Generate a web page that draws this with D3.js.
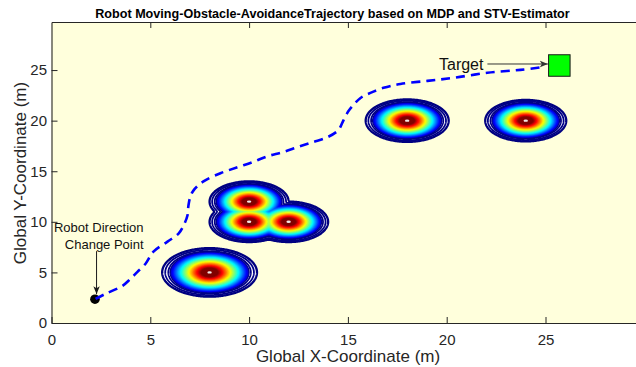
<!DOCTYPE html>
<html>
<head>
<meta charset="utf-8">
<script src="https://cdn.jsdelivr.net/npm/d3@7"></script>
<style>
  html, body { margin: 0; padding: 0; background: #fff; }
  svg { display: block; font-family: "Liberation Sans", Arial, sans-serif; }
</style>
</head>
<body>
<svg id="chart" width="636" height="367"></svg>
<script>
// Robot trajectory (m)
const pathX = [2.23, 2.73, 3.59, 4.00, 4.35, 4.76, 5.16, 5.87, 6.43, 6.68, 6.88, 6.93, 7.03, 7.19, 7.69,
               8.55, 9.41, 10.17, 10.93, 11.69, 12.45, 13.21, 13.97, 14.52, 14.78, 15.03, 15.28, 15.64,
               16.14, 16.80, 17.66, 19.03, 20.34, 22.06, 23.73, 24.99];
const pathY = [2.38, 2.88, 3.67, 4.37, 5.06, 5.86, 7.05, 8.04, 8.84, 9.63, 10.63, 11.62, 12.51, 13.11, 14.00,
               14.80, 15.39, 15.89, 16.48, 16.88, 17.38, 17.87, 18.37, 19.07, 20.06, 20.95, 21.55, 22.24,
               22.74, 23.24, 23.63, 23.93, 24.23, 24.73, 25.02, 25.32];

// Moving obstacles: centres and influence radius (m)
const obstacleX = [8, 10, 10, 12, 18, 24];
const obstacleY = [5, 12, 10, 10, 20, 20];
const obstacleR = [2.4, 2.0, 2.0, 2.0, 2.1, 2.05];

// Start / target
const startPoint = [2.2, 2.35];
const targetPoint = [25.7, 25.45];

// Axis ticks
const xTicks = [0, 5, 10, 15, 20, 25];
const yTicks = [0, 5, 10, 15, 20, 25];

const svg = d3.select("#chart");

const x = d3.scaleLinear().domain([0, 30]).range([51.5, 51.5 + 30 * 19.76]);
const y = d3.scaleLinear().domain([0, 29.75]).range([323, 22]);

const axisColor = "#262626";

// plot area background
svg.append("rect")
  .attr("x", x(0)).attr("y", y(29.75))
  .attr("width", x(30) - x(0)).attr("height", y(0) - y(29.75))
  .attr("fill", "#ffffdc");

svg.append("defs").append("clipPath").attr("id", "plotClip")
  .append("rect")
  .attr("x", x(0)).attr("y", y(29.75))
  .attr("width", x(30) - x(0)).attr("height", y(0) - y(29.75));

const plot = svg.append("g").attr("clip-path", "url(#plotClip)");

// ---- obstacle risk field (contours) ----
const step = 0.05, gx0 = 4, gy0 = 1;
const nx = Math.round((28 - gx0) / step) + 1;
const ny = Math.round((24 - gy0) / step) + 1;
const field = new Float64Array(nx * ny);
for (let j = 0; j < ny; j++) {
  const yy = gy0 + j * step;
  for (let i = 0; i < nx; i++) {
    const xx = gx0 + i * step;
    // smooth maximum of the individual obstacle fields
    let s = 0;
    for (let k = 0; k < obstacleX.length; k++) {
      const u = Math.hypot(xx - obstacleX[k], yy - obstacleY[k]) / obstacleR[k];
      s += Math.exp(40 * (1 - u));
    }
    field[i + j * nx] = Math.log(s) / 40;
  }
}

function jet(t) {
  const c = v => Math.max(0, Math.min(1, v));
  const r = c(1.5 - Math.abs(4 * t - 3));
  const g = c(1.5 - Math.abs(4 * t - 2));
  const b = c(1.5 - Math.abs(4 * t - 1));
  return d3.rgb(r * 255, g * 255, b * 255).toString();
}

const gridPath = d3.geoPath(d3.geoTransform({
  point(px, py) {
    this.stream.point(x(gx0 + (px - 0.5) * step), y(gy0 + (py - 0.5) * step));
  }
}));

const contourGen = d3.contours().size([nx, ny]);

// outer rings
const ringLevels = [0.0, 0.065, 0.13];
const fillStart = 0.17, fillEnd = 0.82, nFill = 42;
const fillLevels = d3.range(nFill).map(i => fillStart + (fillEnd - fillStart) * i / (nFill - 1));

const cg = plot.append("g");
// white base inside outermost ring
cg.append("path")
  .attr("d", gridPath(contourGen.contour(field, ringLevels[0])))
  .attr("fill", "#ffffff").attr("stroke", "#000080").attr("stroke-width", 2.3);
ringLevels.slice(1).forEach(lv => {
  cg.append("path")
    .attr("d", gridPath(contourGen.contour(field, lv)))
    .attr("fill", "none").attr("stroke", "#000086").attr("stroke-width", 1.8);
});
fillLevels.forEach((lv, i) => {
  const t = 0.06 + 0.94 * i / (nFill - 1);
  cg.append("path")
    .attr("d", gridPath(contourGen.contour(field, lv)))
    .attr("fill", jet(t))
    .attr("stroke", i === 0 ? "#00008a" : jet(t))
    .attr("stroke-width", i === 0 ? 1.5 : 0.4);
});
// centre markers
cg.selectAll("ellipse.ctr").data(obstacleX.map((d, i) => [d, obstacleY[i]]))
  .join("ellipse").attr("class", "ctr")
  .attr("cx", d => x(d[0])).attr("cy", d => y(d[1]))
  .attr("rx", 2.2).attr("ry", 1.2).attr("fill", "#ffffff").attr("opacity", 0.9);

// ---- start point ----
plot.append("circle")
  .attr("cx", x(startPoint[0])).attr("cy", y(startPoint[1]))
  .attr("r", 4.8).attr("fill", "#000");

// ---- trajectory ----
const line = d3.line()
  .x((d, i) => x(pathX[i])).y((d, i) => y(pathY[i]))
  .curve(d3.curveCatmullRom.alpha(0.5));
plot.append("path")
  .attr("d", line(pathX))
  .attr("fill", "none")
  .attr("stroke", "#0000ff")
  .attr("stroke-width", 2.6)
  .attr("stroke-dasharray", "9,6");

// ---- target ----
const tSize = 21.5;
plot.append("rect")
  .attr("x", x(targetPoint[0]) - tSize / 2).attr("y", y(targetPoint[1]) - tSize / 2)
  .attr("width", tSize).attr("height", tSize)
  .attr("fill", "#00ff00").attr("stroke", "#1a1a1a").attr("stroke-width", 1);

// ---- annotations ----
const defs = svg.select("defs");
function marker(id, color) {
  defs.append("marker").attr("id", id)
    .attr("viewBox", "0 0 10 10").attr("refX", 10).attr("refY", 5)
    .attr("markerWidth", 8).attr("markerHeight", 8).attr("markerUnits", "userSpaceOnUse")
    .attr("orient", "auto")
    .append("path").attr("d", "M0,1 L10,5 L0,9 L2.5,5 Z").attr("fill", color);
}
marker("arrowDark", "#1a1a1a");
marker("arrowGray", "#333333");

// target arrow
svg.append("line")
  .attr("x1", x(22.06)).attr("y1", y(25.6))
  .attr("x2", x(25.12)).attr("y2", y(25.6))
  .attr("stroke", "#333333").attr("stroke-width", 1)
  .attr("marker-end", "url(#arrowGray)");
svg.append("text")
  .attr("x", x(21.86)).attr("y", y(25.05))
  .attr("text-anchor", "end").attr("font-size", 16).attr("fill", "#111")
  .text("Target");

// direction-change arrow
svg.append("line")
  .attr("x1", x(2.28)).attr("y1", y(7.1))
  .attr("x2", x(2.28)).attr("y2", y(2.85))
  .attr("stroke", "#1a1a1a").attr("stroke-width", 1)
  .attr("marker-end", "url(#arrowDark)");
const rt = svg.append("text")
  .attr("text-anchor", "end").attr("font-size", 13).attr("fill", "#111");
rt.append("tspan").attr("x", x(4.66)).attr("y", y(9.0)).text("Robot Direction");
rt.append("tspan").attr("x", x(4.66)).attr("y", y(7.32)).text("Change Point");

// ---- axes ----
const fmt = d3.format("d");
const gx = svg.append("g").attr("transform", `translate(0,${y(0)})`)
  .call(d3.axisBottom(x).tickValues(xTicks).tickFormat(fmt).tickSizeInner(-6).tickSizeOuter(0).tickPadding(11.3));
const gy = svg.append("g").attr("transform", `translate(${x(0)},0)`)
  .call(d3.axisLeft(y).tickValues(yTicks).tickFormat(fmt).tickSizeInner(-6).tickSizeOuter(0).tickPadding(4.5));
const gt = svg.append("g").attr("transform", `translate(0,${y(29.75)})`)
  .call(d3.axisTop(x).tickValues(xTicks).tickFormat("").tickSizeInner(-6).tickSizeOuter(0));
[gx, gy, gt].forEach(g => {
  g.selectAll(".domain").attr("stroke", axisColor).attr("stroke-width", 1.1);
  g.selectAll(".tick line").attr("stroke", axisColor).attr("stroke-width", 1);
  g.selectAll(".tick text").attr("fill", axisColor).attr("font-size", 15)
    .attr("font-family", "Liberation Sans, Arial, sans-serif");
});
gt.selectAll(".tick").filter(d => d === 0).remove();

// ---- labels ----
svg.append("text")
  .attr("x", 348).attr("y", 362)
  .attr("text-anchor", "middle").attr("font-size", 17).attr("fill", axisColor)
  .text("Global X-Coordinate (m)");
svg.append("text")
  .attr("transform", "translate(26,173) rotate(-90)")
  .attr("text-anchor", "middle").attr("font-size", 17).attr("fill", axisColor)
  .text("Global Y-Coordinate (m)");
svg.append("text")
  .attr("x", 332.5).attr("y", 17.5)
  .attr("text-anchor", "middle").attr("font-size", 12.6).attr("font-weight", "bold").attr("fill", "#000")
  .text("Robot Moving-Obstacle-AvoidanceTrajectory based on MDP and STV-Estimator");
</script>
</body>
</html>
